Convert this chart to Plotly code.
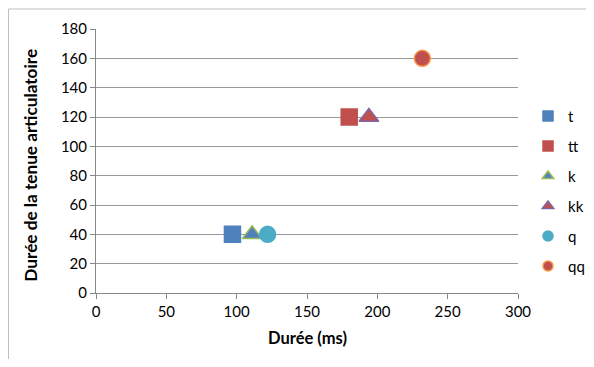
import plotly.graph_objects as go

names = ["t", "tt", "k", "kk", "q", "qq"]
x_vals = [97, 180, 111, 194, 122, 232]
y_vals = [40, 120, 40, 120, 40, 160]
symbols = ["square", "square", "triangle-up", "triangle-up", "circle", "circle"]
fills = ["#4F81BD", "#C0504D", "#4F81BD", "#C0504D", "#4BACC6", "#C0504D"]
edges = ["#4F81BD", "#C0504D", "#9BBB59", "#8064A2", "#4BACC6", "#F79646"]
sizes = [16, 16, 17, 17, 16, 16]

FONT = "Lato, 'Liberation Sans', sans-serif"

fig = go.Figure()
for i, n in enumerate(names):
    fig.add_trace(go.Scatter(
        x=[x_vals[i]], y=[y_vals[i]], mode="markers", name=n,
        showlegend=False, legendgroup=n,
        marker=dict(symbol=symbols[i], size=sizes[i], color=fills[i],
                    line=dict(color=edges[i], width=1.5)),
        hoverinfo="x+y+name"))
    fig.add_trace(go.Scatter(
        x=[None], y=[None], mode="markers", name=n, legendgroup=n,
        showlegend=True,
        marker=dict(symbol=symbols[i], size=10, color=fills[i],
                    line=dict(color=edges[i], width=1.5))))

fig.update_layout(
    width=578, height=351,
    margin=dict(l=88, r=68, t=21, b=66, autoexpand=False),
    paper_bgcolor="white", plot_bgcolor="white",
    font=dict(family=FONT, size=15, color="#000000"),
    showlegend=True,
    legend=dict(xref="container", yref="container",
                x=0.8997, y=0.7386, xanchor="left", yanchor="top",
                font=dict(size=15), tracegroupgap=7.5, itemwidth=30,
                bgcolor="rgba(0,0,0,0)"),
    xaxis=dict(range=[0, 300], dtick=50, showgrid=False, zeroline=False,
               showline=True, linecolor="#888888", linewidth=1,
               ticks="outside", ticklen=5, tickcolor="#888888",
               tickfont=dict(size=15), fixedrange=True),
    yaxis=dict(range=[0, 180], dtick=20, showgrid=True, gridcolor="#999999",
               gridwidth=1, zeroline=False,
               showline=True, linecolor="#888888", linewidth=1,
               ticks="outside", ticklen=5, tickcolor="#888888",
               tickfont=dict(size=15), fixedrange=True),
    annotations=[
        dict(text="<b>Durée (ms)</b>", x=0.5, y=-0.171, xref="paper", yref="paper",
             xanchor="center", yanchor="middle", showarrow=False,
             font=dict(size=16.5)),
        dict(text="<b>Durée de la tenue articulatoire</b>", x=-0.156, y=0.483,
             xref="paper", yref="paper", xanchor="center", yanchor="middle",
             textangle=-90, showarrow=False, font=dict(size=17.2)),
    ],
    shapes=[dict(type="rect", xref="paper", yref="paper",
                 x0=-0.2073, x1=1.25, y0=-0.35, y1=1.0758,
                 line=dict(color="#BFBFBF", width=1), layer="below")],
)

fig.write_html("out.html")
